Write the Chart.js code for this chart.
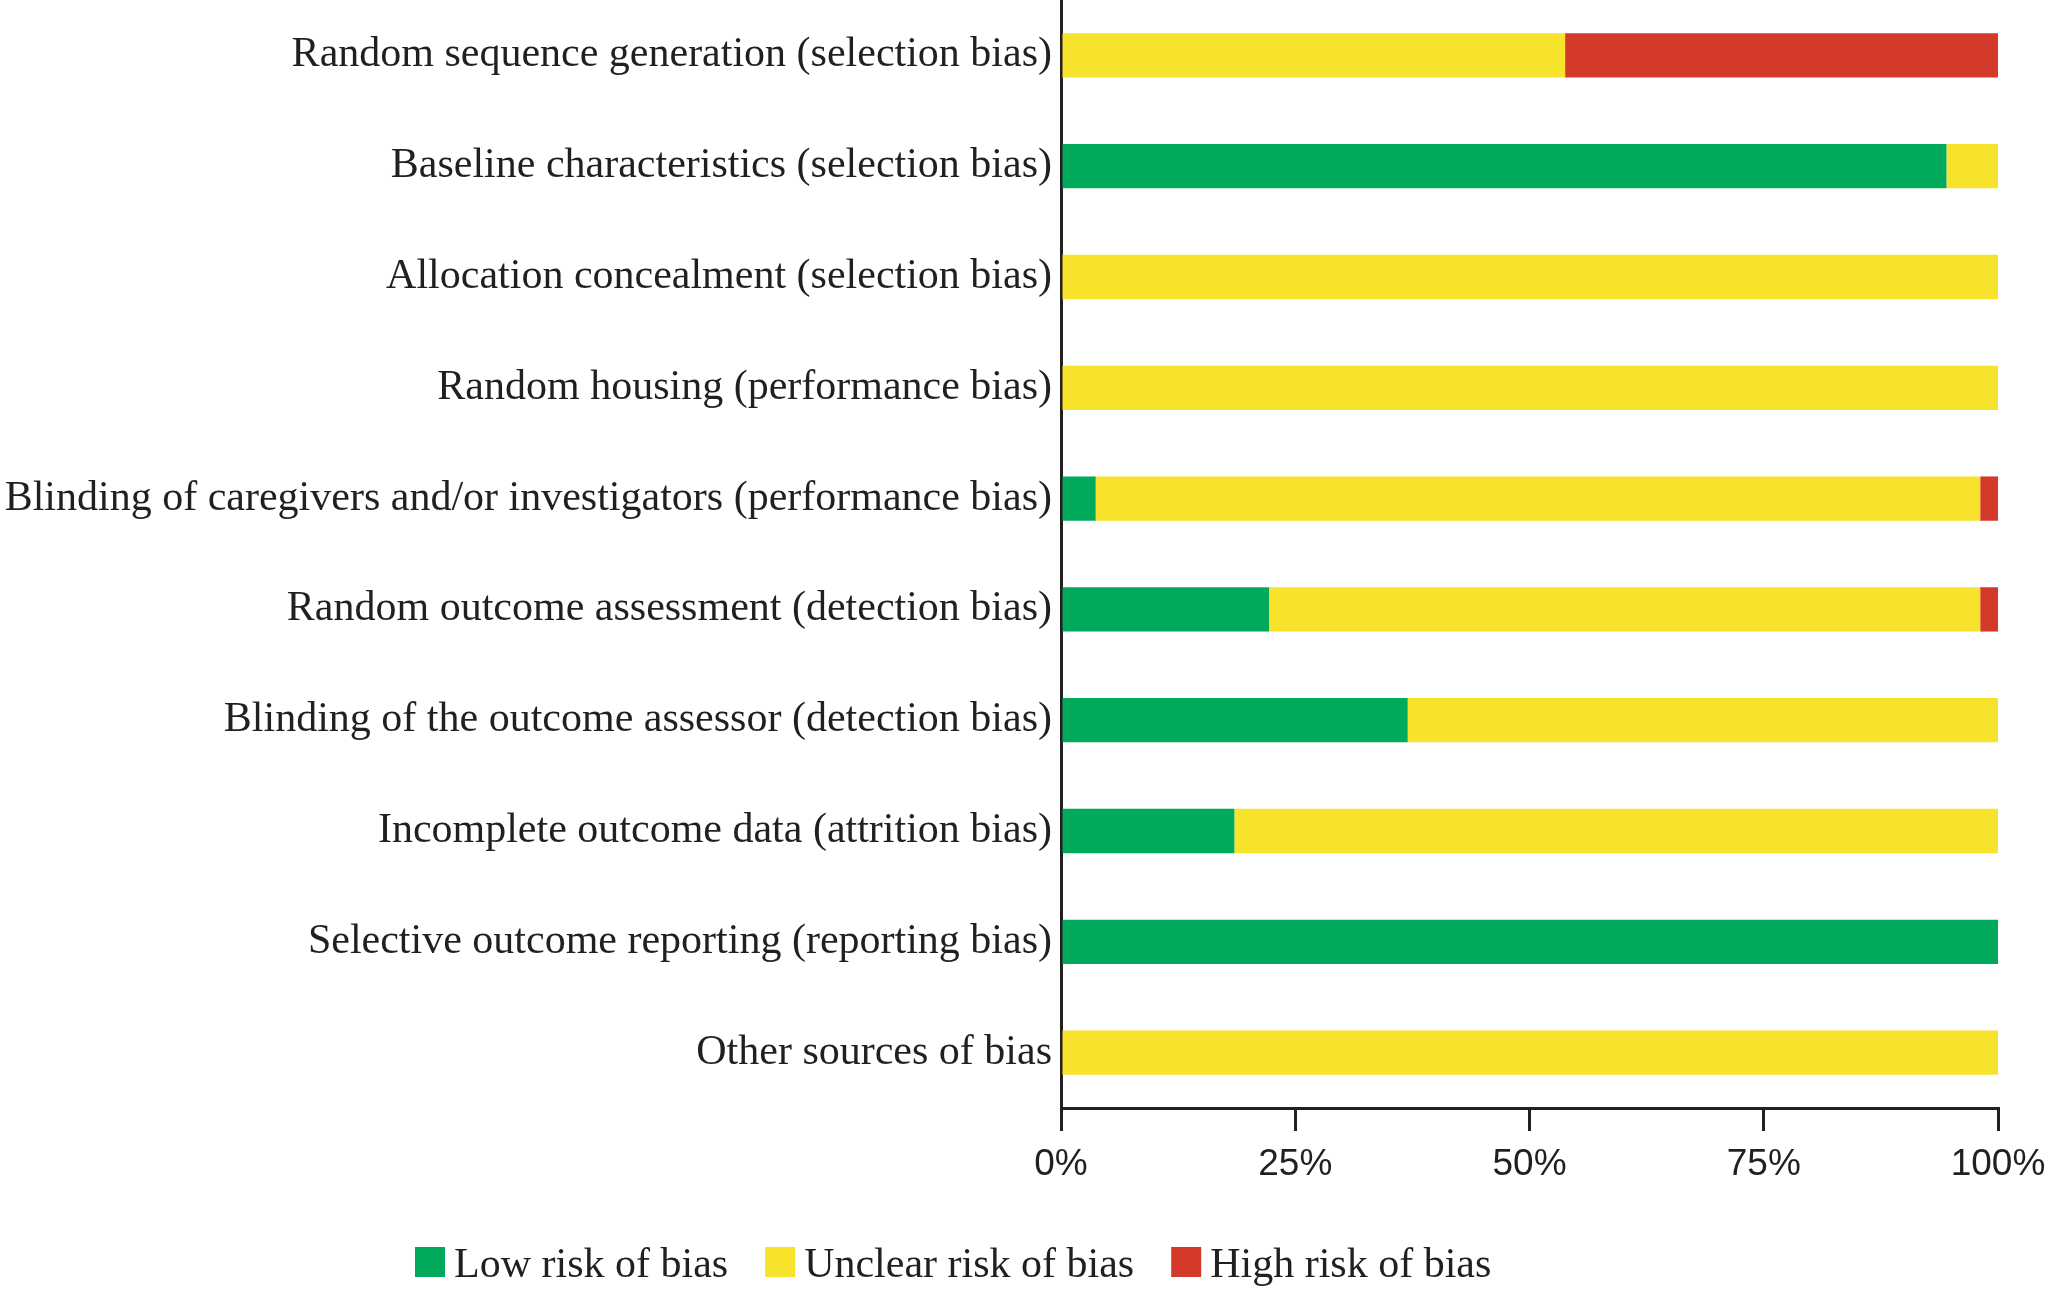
<!DOCTYPE html>
<html>
<head>
<meta charset="utf-8">
<script src="https://cdn.jsdelivr.net/npm/chart.js@4.4.1/dist/chart.umd.min.js"></script>
<style>
  html, body { margin: 0; padding: 0; background: #fff; }
  #wrap { width: 2047px; height: 1291px; position: relative; }
</style>
</head>
<body>
<div id="wrap"><canvas id="c"></canvas></div>
<script>
const categories = [
  "Random sequence generation (selection bias)",
  "Baseline characteristics (selection bias)",
  "Allocation concealment (selection bias)",
  "Random housing (performance bias)",
  "Blinding of caregivers and/or investigators (performance bias)",
  "Random outcome assessment (detection bias)",
  "Blinding of the outcome assessor (detection bias)",
  "Incomplete outcome data (attrition bias)",
  "Selective outcome reporting (reporting bias)",
  "Other sources of bias"
];
const lowRisk     = [0,    94.5, 0,   0,   3.7,  22.2, 37.0, 18.5, 100, 0];
const unclearRisk = [53.8, 5.5,  100, 100, 94.4, 75.9, 63.0, 81.5, 0,   100];
const highRisk    = [46.2, 0,    0,   0,   1.9,  1.9,  0,    0,    0,   0];
const seriesNames = ["Low risk of bias", "Unclear risk of bias", "High risk of bias"];
const xTicks = [0, 25, 50, 75, 100];

const GREEN = "rgb(0,169,92)";
const YELLOW = "rgb(247,226,44)";
const RED = "rgb(212,58,43)";
const INK = "#231f20";
const SERIF = "'Liberation Serif', 'Times New Roman', serif";
const SANS = "'Liberation Sans', Arial, sans-serif";

// Legend drawn with the dataset labels/colours (compact spacing like the reference)
const customLegend = {
  id: "customLegend",
  afterDraw(chart) {
    const ctx = chart.ctx;
    const box = 30, gapText = 9, gapItem = 37;
    const boxTop = 1247, baseline = 1277;
    ctx.save();
    ctx.font = "42px " + SERIF;
    ctx.textBaseline = "alphabetic";
    ctx.textAlign = "left";
    let x = 415;
    chart.data.datasets.forEach(ds => {
      ctx.fillStyle = ds.backgroundColor;
      ctx.fillRect(x, boxTop, box, box);
      x += box + gapText;
      ctx.fillStyle = INK;
      ctx.fillText(ds.label, x, baseline);
      x += ctx.measureText(ds.label).width + gapItem;
    });
    ctx.restore();
  }
};

new Chart(document.getElementById("c"), {
  type: "bar",
  data: {
    labels: categories,
    datasets: [
      { label: seriesNames[0], data: lowRisk, backgroundColor: GREEN },
      { label: seriesNames[1], data: unclearRisk, backgroundColor: YELLOW },
      { label: seriesNames[2], data: highRisk, backgroundColor: RED }
    ]
  },
  options: {
    indexAxis: "y",
    responsive: true,
    maintainAspectRatio: false,
    animation: false,
    devicePixelRatio: 1,
    categoryPercentage: 0.8,
    barPercentage: 0.5,
    layout: { padding: { top: 0, right: 49, bottom: 62, left: 0 } },
    plugins: {
      tooltip: { enabled: false },
      legend: { display: false }
    },
    scales: {
      x: {
        stacked: true,
        min: 0,
        max: 100,
        afterBuildTicks(scale) { scale.ticks = xTicks.map(v => ({ value: v })); },
        afterFit(scale) { scale.height = 121; scale.paddingRight = 0; scale.paddingLeft = 0; },
        ticks: {
          callback: v => v + "%",
          font: { family: SANS, size: 37 },
          color: INK,
          padding: 12,
          maxRotation: 0
        },
        grid: {
          drawOnChartArea: false,
          drawTicks: true,
          tickLength: 23,
          color: INK,
          lineWidth: 3
        },
        border: { display: true, color: INK, width: 3 }
      },
      y: {
        stacked: true,
        afterFit(scale) { scale.width = 1061; scale.paddingTop = 0; scale.paddingBottom = 0; },
        ticks: {
          font: { family: SERIF, size: 42 },
          color: INK,
          padding: 9,
          autoSkip: false
        },
        grid: { display: false, drawTicks: false },
        border: { display: true, color: INK, width: 3 }
      }
    }
  },
  plugins: [customLegend]
});
</script>
</body>
</html>
